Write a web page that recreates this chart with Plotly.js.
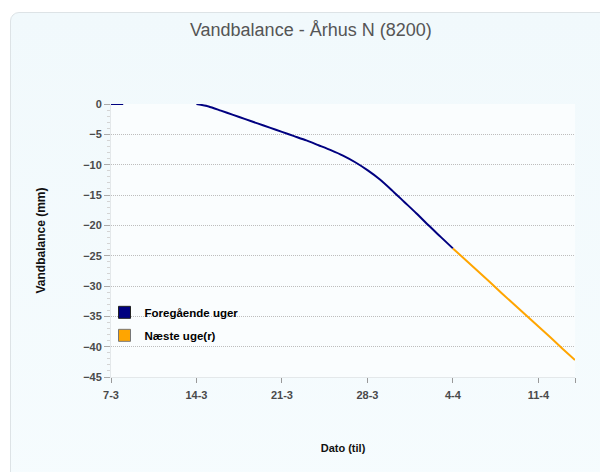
<!DOCTYPE html>
<html>
<head>
<meta charset="utf-8">
<script src="https://cdn.plot.ly/plotly-3.0.1.min.js"></script>
<style>
  html, body { margin: 0; padding: 0; background: #ffffff; }
  #card { position: absolute; left: 10px; top: 12px; width: 620px; height: 500px;
          border: 1px solid #dde3e6; border-radius: 9px;
          background: linear-gradient(#f1f9fc, #f6fcfe); }
  #chart { position: absolute; left: 0; top: 0; width: 600px; height: 472px; }
</style>
</head>
<body>
<div id="card"></div>
<div id="chart"></div>
<script>
// Dates (7-3 .. 4-4) for previous weeks, daily
const datesPrev = [
  '2013-03-07','2013-03-08','2013-03-09','2013-03-10','2013-03-11','2013-03-12','2013-03-13',
  '2013-03-14','2013-03-15','2013-03-16','2013-03-17','2013-03-18','2013-03-19','2013-03-20',
  '2013-03-21','2013-03-22','2013-03-23','2013-03-24','2013-03-25','2013-03-26','2013-03-27',
  '2013-03-28','2013-03-29','2013-03-30','2013-03-31','2013-04-01','2013-04-02','2013-04-03',
  '2013-04-04'
];
const valuesPrev = [
  0, 0, null, null, null, null, null,
  0, -0.4, -1.1, -1.8, -2.5, -3.2, -3.9,
  -4.6, -5.3, -6.0, -6.8, -7.6, -8.5, -9.6,
  -10.9, -12.4, -14.2, -16.1, -18.0, -20.0, -21.9,
  -23.8
];
// Forecast (4-4 .. 14-4)
const datesNext = [
  '2013-04-04','2013-04-05','2013-04-06','2013-04-07','2013-04-08','2013-04-09',
  '2013-04-10','2013-04-11','2013-04-12','2013-04-13','2013-04-14'
];
const valuesNext = [-23.8, -25.6, -27.5, -29.3, -31.2, -33.0, -34.9, -36.7, -38.5, -40.4, -42.2];

const seriesNames = ['Foregående uger', 'Næste uge(r)'];
const tickDates = ['2013-03-07','2013-03-14','2013-03-21','2013-03-28','2013-04-04','2013-04-11','2013-04-14'];
const tickLabels = ['7-3','14-3','21-3','28-3','4-4','11-4',''];

const NAVY = '#000080', ORANGE = '#FFA500';
const FONT = 'Liberation Sans, Arial, sans-serif';
const traces = [
  {x: datesPrev, y: valuesPrev, type: 'scatter', mode: 'lines', connectgaps: false,
   line: {color: NAVY, width: 2, shape: 'spline', smoothing: 0.6}, showlegend: false, hoverinfo: 'skip'},
  {x: datesNext, y: valuesNext, type: 'scatter', mode: 'lines',
   line: {color: ORANGE, width: 2}, showlegend: false, hoverinfo: 'skip'},
  {x: [null], y: [null], type: 'scatter', mode: 'markers', name: seriesNames[0], legendgroup: 'a',
   marker: {symbol: 'square', size: 12, color: NAVY, line: {color: '#222', width: 1}}},
  {x: [null], y: [null], type: 'scatter', mode: 'markers', name: seriesNames[1], legendgroup: 'b',
   marker: {symbol: 'square', size: 12, color: ORANGE, line: {color: '#777', width: 1}}}
];

const tickFont = {family: FONT, size: 11, color: '#4a4a4a', weight: 'bold'};
const layout = {
  width: 600, height: 472,
  margin: {l: 111, r: 25, t: 104, b: 95},
  paper_bgcolor: 'rgba(0,0,0,0)',
  plot_bgcolor: '#fafdfe',
  title: {text: 'Vandbalance - Århus N (8200)', x: 0.518, xref: 'container', xanchor: 'center',
          y: 0.938, yref: 'container', yanchor: 'middle',
          font: {family: FONT, size: 18, color: '#555'}},
  xaxis: {
    type: 'date', range: ['2013-03-07', '2013-04-14'],
    tickmode: 'array', tickvals: tickDates, ticktext: tickLabels,
    ticks: 'outside', ticklen: 5, tickcolor: '#999', tickwidth: 1,
    ticklabelstandoff: 3,
    showgrid: false, showline: true, linecolor: '#e4e8ea', zeroline: false,
    tickfont: tickFont,
    title: {text: 'Dato (til)', standoff: 44, font: {family: FONT, size: 11, color: '#111', weight: 'bold'}}
  },
  yaxis: {
    range: [-45, 0], dtick: 5, tick0: 0,
    ticks: 'outside', ticklen: 6, tickcolor: '#aaa', tickwidth: 1,
    minor: {dtick: 1, ticks: 'outside', ticklen: 3, tickcolor: '#d4d4d4', showgrid: false},
    showgrid: true, gridcolor: '#bdbdbd', griddash: '1px,1px', gridwidth: 1,
    showline: true, linecolor: '#e4e8ea', zeroline: false,
    tickfont: tickFont,
    title: {text: 'Vandbalance (mm)', standoff: 34, font: {family: FONT, size: 12, color: '#111', weight: 'bold'}}
  },
  legend: {x: -0.014, y: 0.29, xanchor: 'left', yanchor: 'top', bgcolor: 'rgba(0,0,0,0)',
           font: {family: FONT, size: 11.5, color: '#000', weight: 'bold'},
           itemwidth: 30, tracegroupgap: 4},
  showlegend: true
};
Plotly.newPlot('chart', traces, layout, {displayModeBar: false, staticPlot: true});
</script>
</body>
</html>
